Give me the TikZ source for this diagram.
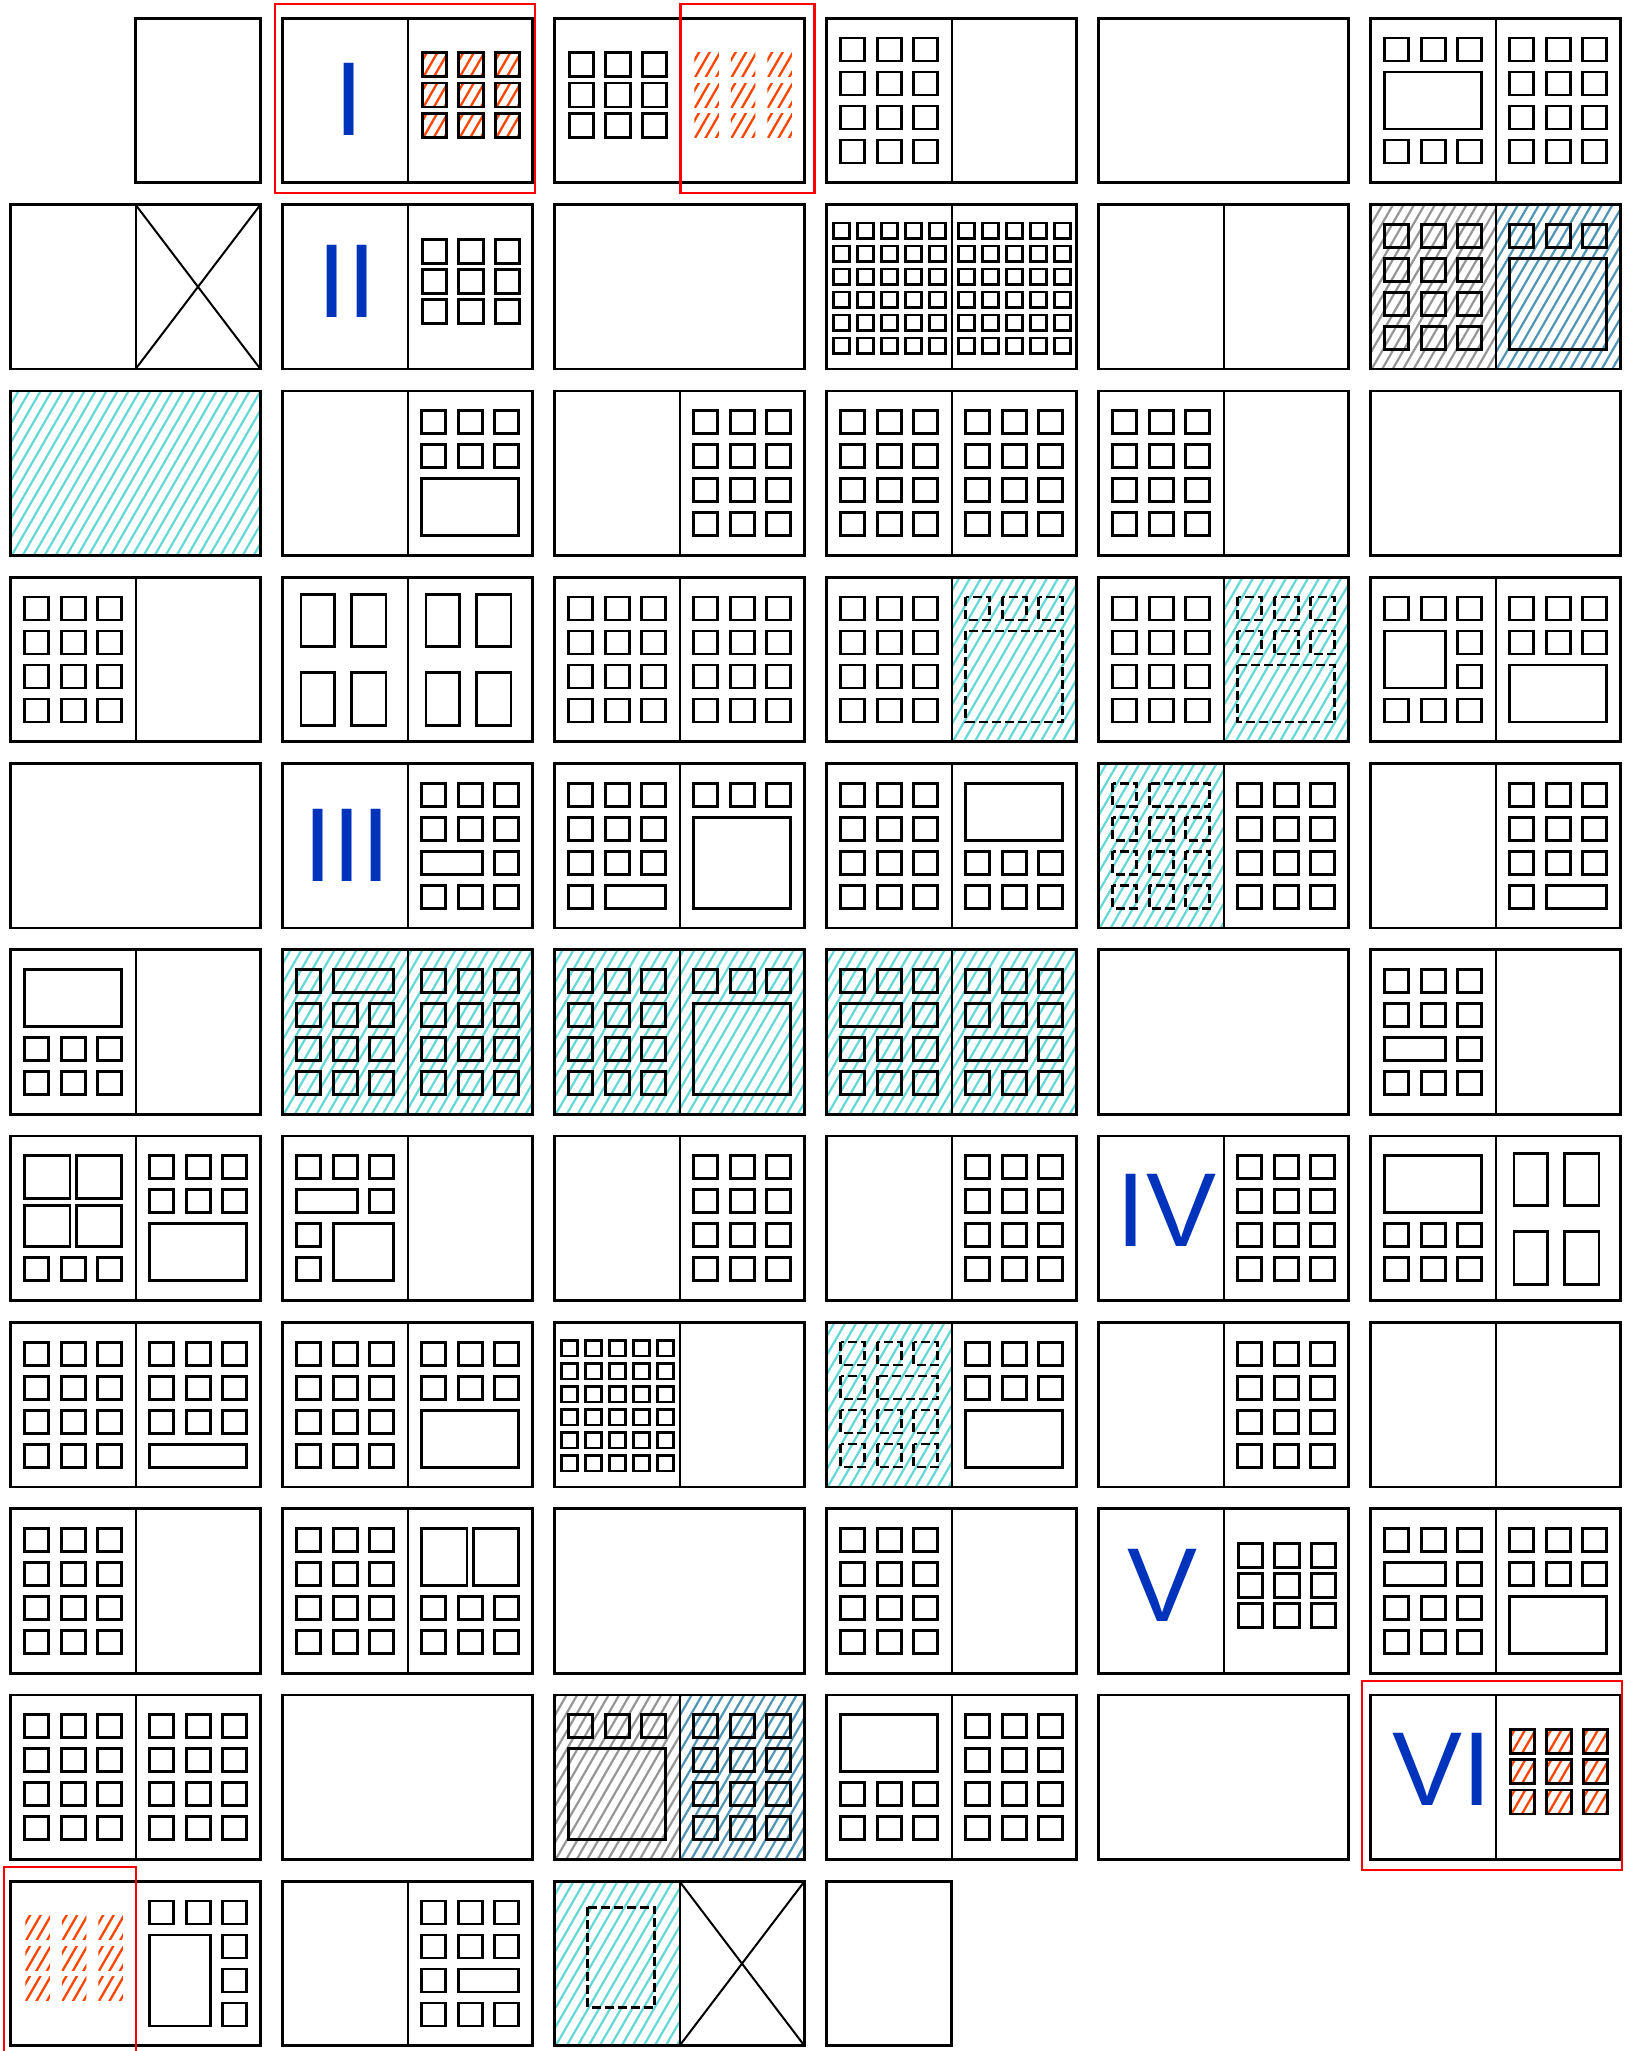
\documentclass[tikz,border=0pt]{standalone}
\usepackage{fontspec}
\setmainfont{Liberation Sans}
\definecolor{lblue}{RGB}{0,51,187}
\definecolor{cyanH}{RGB}{100,215,215}
\definecolor{grayH}{RGB}{150,150,150}
\definecolor{blueH}{RGB}{80,150,180}
\definecolor{orangeH}{RGB}{255,70,0}
\definecolor{redC}{RGB}{255,0,0}
\tikzset{
 frm/.style={line width=2.7pt, draw=black},
 divl/.style={line width=2pt},
 boxst/.style={line width=2.8pt},
 dbox/.style={line width=2.6pt, dash pattern=on 9pt off 4pt},
 xln/.style={line width=2pt},
 hl/.style={line width=2.2pt},
 redbox/.style={draw=redC, line width=2.2pt},
 lbl/.style={text=lblue, inner sep=0pt, font=\fontsize{105}{105}\selectfont, anchor=base},
}
\newcommand{\SP}[3]{\begin{scope}[shift={({10.5+272*(#1-1)},{18.3+186.3*(#2-1)})}]#3\end{scope}}
\newcommand{\frameD}{\draw[frm] (0,0) rectangle (250,164.5); \draw[divl] (125,0) -- (125,164.5);}
\newcommand{\frameS}{\draw[frm] (0,0) rectangle (250,164.5);}
\newcommand{\bx}[5]{\draw[boxst] ({#1+14.25+36.5*#2},{19.75+34*#3}) rectangle ({#1+38.25+36.5*#4},{42.75+34*#5});}
\newcommand{\dbx}[5]{\draw[dbox] ({#1+14.25+36.5*#2},{19.75+34*#3}) rectangle ({#1+38.25+36.5*#4},{42.75+34*#5});}
\newcommand{\rowb}[2]{\foreach \i in {0,1,2}{\bx{#1}{\i}{#2}{\i}{#2}}}
\newcommand{\drow}[2]{\foreach \i in {0,1,2}{\dbx{#1}{\i}{#2}{\i}{#2}}}
\newcommand{\grid}[1]{\foreach \j in {0,...,3}{\rowb{#1}{\j}}}
\newcommand{\bxc}[3]{\draw[boxst] ({#1+14.75+36.5*#2},{34.5+30.25*#3}) rectangle ++(24.5,24);}
\newcommand{\gridc}[1]{\foreach \j in {0,1,2}{\foreach \i in {0,1,2}{\bxc{#1}{\i}{\j}}}}
\newcommand{\dense}[1]{\foreach \i in {0,...,4}{\foreach \j in {0,...,5}{\draw[boxst] ({#1+6.75+24*\i},{18.4+23*\j}) rectangle ++(16,15.2);}}}
\newcommand{\tall}[1]{\draw[boxst] ({#1+18.5},17) rectangle ({#1+52},69.5) ({#1+69},17) rectangle ({#1+103.5},69.5) ({#1+18.5},95) rectangle ({#1+52},148.5) ({#1+69},95) rectangle ({#1+103.5},148.5);}
% hatch: x1 y1 x2 y2 colour spacing
\newcommand{\hatch}[6]{\begin{scope}\clip ({#1},{#2}) rectangle ({#3},{#4});\foreach \k in {-11,...,27}{\draw[#5,hl] ({#1+\k*#6},{#4+2}) -- ++(100,-173.2);}\end{scope}}
\newcommand{\hatchs}[5]{\begin{scope}\clip ({#1},{#2}) rectangle ({#3},{#4});\foreach \k in {-3,...,4}{\draw[#5,hl,line width=2.3pt] ({#1+\k*10.5},{#4+2}) -- ++(20,-34.64);}\end{scope}}
\newcommand{\ogrid}[1]{\foreach \j in {0,1,2}{\foreach \i in {0,1,2}{\hatchs{#1+14.75+36.5*\i}{34.5+30.25*\j}{#1+39.25+36.5*\i}{58.5+30.25*\j}{orangeH}}}}
\newcommand{\cyanpage}[2]{\hatch{#1}{0}{#2}{164.5}{cyanH}{11}}
\begin{document}
\begin{tikzpicture}[x=1pt,y=-1pt]
\useasboundingbox (0,0) rectangle (1630,2051);
% Row 1
\SP{1}{1}{\draw[frm] (125,0) rectangle (250,164.5);}
\SP{2}{1}{\frameD \node[lbl] (lI) at (66.7,116.7) {I}; \ogrid{125} \gridc{125}}
\SP{3}{1}{\frameD \gridc{0} \ogrid{125}}
\SP{4}{1}{\frameD \grid{0}}
\SP{5}{1}{\frameS}
\SP{6}{1}{\frameD \rowb{0}{0} \bx{0}{0}{1}{2}{2} \rowb{0}{3} \grid{125}}
% Row 2
\SP{1}{2}{\frameD \draw[xln] (125,0) -- (250,164.5) (125,164.5) -- (250,0);}
\SP{2}{2}{\frameD \node[lbl] (lII) at (64.6,113) {II}; \gridc{125}}
\SP{3}{2}{\frameS}
\SP{4}{2}{\frameD \dense{0} \dense{125}}
\SP{5}{2}{\frameD}
\SP{6}{2}{\hatch{0}{0}{125}{164.5}{grayH}{10.5} \hatch{125}{0}{250}{164.5}{blueH}{10.5} \frameD \grid{0} \rowb{125}{0} \bx{125}{0}{1}{2}{3}}
% Row 3
\SP{1}{3}{\cyanpage{0}{250} \frameS}
\SP{2}{3}{\frameD \rowb{125}{0} \rowb{125}{1} \bx{125}{0}{2}{2}{3}}
\SP{3}{3}{\frameD \grid{125}}
\SP{4}{3}{\frameD \grid{0} \grid{125}}
\SP{5}{3}{\frameD \grid{0}}
\SP{6}{3}{\frameS}
% Row 4
\SP{1}{4}{\frameD \grid{0}}
\SP{2}{4}{\frameD \tall{0} \tall{125}}
\SP{3}{4}{\frameD \grid{0} \grid{125}}
\SP{4}{4}{\cyanpage{125}{250} \frameD \grid{0} \drow{125}{0} \dbx{125}{0}{1}{2}{3}}
\SP{5}{4}{\cyanpage{125}{250} \frameD \grid{0} \drow{125}{0} \drow{125}{1} \dbx{125}{0}{2}{2}{3}}
\SP{6}{4}{\frameD \rowb{0}{0} \bx{0}{0}{1}{1}{2} \bx{0}{2}{1}{2}{1} \bx{0}{2}{2}{2}{2} \rowb{0}{3} \rowb{125}{0} \rowb{125}{1} \bx{125}{0}{2}{2}{3}}
% Row 5
\SP{1}{5}{\frameS}
\SP{2}{5}{\frameD \node[lbl] (lIII) at (64.6,117.7) {III}; \rowb{125}{0} \rowb{125}{1} \bx{125}{0}{2}{1}{2} \bx{125}{2}{2}{2}{2} \rowb{125}{3}}
\SP{3}{5}{\frameD \rowb{0}{0} \rowb{0}{1} \rowb{0}{2} \bx{0}{0}{3}{0}{3} \bx{0}{1}{3}{2}{3} \rowb{125}{0} \bx{125}{0}{1}{2}{3}}
\SP{4}{5}{\frameD \grid{0} \bx{125}{0}{0}{2}{1} \rowb{125}{2} \rowb{125}{3}}
\SP{5}{5}{\cyanpage{0}{125} \frameD \dbx{0}{0}{0}{0}{0} \dbx{0}{1}{0}{2}{0} \drow{0}{1} \drow{0}{2} \drow{0}{3} \grid{125}}
\SP{6}{5}{\frameD \rowb{125}{0} \rowb{125}{1} \rowb{125}{2} \bx{125}{0}{3}{0}{3} \bx{125}{1}{3}{2}{3}}
% Row 6
\SP{1}{6}{\frameD \bx{0}{0}{0}{2}{1} \rowb{0}{2} \rowb{0}{3}}
\SP{2}{6}{\cyanpage{0}{250} \frameD \bx{0}{0}{0}{0}{0} \bx{0}{1}{0}{2}{0} \rowb{0}{1} \rowb{0}{2} \rowb{0}{3} \grid{125}}
\SP{3}{6}{\cyanpage{0}{250} \frameD \grid{0} \rowb{125}{0} \bx{125}{0}{1}{2}{3}}
\SP{4}{6}{\cyanpage{0}{250} \frameD \rowb{0}{0} \bx{0}{0}{1}{1}{1} \bx{0}{2}{1}{2}{1} \rowb{0}{2} \rowb{0}{3} \rowb{125}{0} \rowb{125}{1} \bx{125}{0}{2}{1}{2} \bx{125}{2}{2}{2}{2} \rowb{125}{3}}
\SP{5}{6}{\frameS}
\SP{6}{6}{\frameD \rowb{0}{0} \rowb{0}{1} \bx{0}{0}{2}{1}{2} \bx{0}{2}{2}{2}{2} \rowb{0}{3}}
% Row 7
\SP{1}{7}{\frameD \draw[boxst] (14.25,19.75) rectangle (59.5,62) (66,19.75) rectangle (111.25,62) (14.25,69) rectangle (59.5,110.75) (66,69) rectangle (111.25,110.75); \rowb{0}{3} \rowb{125}{0} \rowb{125}{1} \bx{125}{0}{2}{2}{3}}
\SP{2}{7}{\frameD \rowb{0}{0} \bx{0}{0}{1}{1}{1} \bx{0}{2}{1}{2}{1} \bx{0}{0}{2}{0}{2} \bx{0}{0}{3}{0}{3} \bx{0}{1}{2}{2}{3}}
\SP{3}{7}{\frameD \grid{125}}
\SP{4}{7}{\frameD \grid{125}}
\SP{5}{7}{\frameD \node[lbl] (lIV) at (68,109.9) {IV}; \grid{125}}
\SP{6}{7}{\frameD \bx{0}{0}{0}{2}{1} \rowb{0}{2} \rowb{0}{3} \tall{125}}
% Row 8
\SP{1}{8}{\frameD \grid{0} \rowb{125}{0} \rowb{125}{1} \rowb{125}{2} \bx{125}{0}{3}{2}{3}}
\SP{2}{8}{\frameD \grid{0} \rowb{125}{0} \rowb{125}{1} \bx{125}{0}{2}{2}{3}}
\SP{3}{8}{\frameD \dense{0}}
\SP{4}{8}{\cyanpage{0}{125} \frameD \drow{0}{0} \dbx{0}{0}{1}{0}{1} \dbx{0}{1}{1}{2}{1} \drow{0}{2} \drow{0}{3} \rowb{125}{0} \rowb{125}{1} \bx{125}{0}{2}{2}{3}}
\SP{5}{8}{\frameD \grid{125}}
\SP{6}{8}{\frameD}
% Row 9
\SP{1}{9}{\frameD \grid{0}}
\SP{2}{9}{\frameD \grid{0} \draw[boxst] (139.25,19.75) rectangle (184.5,76.75) (191,19.75) rectangle (236.25,76.75); \rowb{125}{2} \rowb{125}{3}}
\SP{3}{9}{\frameS}
\SP{4}{9}{\frameD \grid{0}}
\SP{5}{9}{\frameD \node[lbl] (lV) at (64.1,112.3) {V}; \gridc{125}}
\SP{6}{9}{\frameD \rowb{0}{0} \bx{0}{0}{1}{1}{1} \bx{0}{2}{1}{2}{1} \rowb{0}{2} \rowb{0}{3} \rowb{125}{0} \rowb{125}{1} \bx{125}{0}{2}{2}{3}}
% Row 10
\SP{1}{10}{\frameD \grid{0} \grid{125}}
\SP{2}{10}{\frameS}
\SP{3}{10}{\hatch{0}{0}{125}{164.5}{grayH}{10.5} \hatch{125}{0}{250}{164.5}{blueH}{10.5} \frameD \rowb{0}{0} \bx{0}{0}{1}{2}{3} \grid{125}}
\SP{4}{10}{\frameD \bx{0}{0}{0}{2}{1} \rowb{0}{2} \rowb{0}{3} \grid{125}}
\SP{5}{10}{\frameS}
\SP{6}{10}{\frameD \node[lbl] (lVI) at (71.8,110.6) {VI}; \ogrid{125} \gridc{125}}
% Row 11
\SP{1}{11}{\frameD \ogrid{0} \rowb{125}{0} \bx{125}{0}{1}{1}{3} \bx{125}{2}{1}{2}{1} \bx{125}{2}{2}{2}{2} \bx{125}{2}{3}{2}{3}}
\SP{2}{11}{\frameD \rowb{125}{0} \rowb{125}{1} \bx{125}{0}{2}{0}{2} \bx{125}{1}{2}{2}{2} \rowb{125}{3}}
\SP{3}{11}{\cyanpage{0}{125} \frameD \draw[dbox] (33,26) rectangle (100,126); \draw[xln] (125,0) -- (250,164.5) (125,164.5) -- (250,0);}
\SP{4}{11}{\draw[frm] (0,0) rectangle (125,164.5);}
% Red highlight boxes
\SP{2}{1}{\draw[redbox] (-7.5,-14.3) rectangle (252.5,174.4);}
\SP{3}{1}{\draw[redbox] (126,-14.3) rectangle (260,174.4);}
\SP{6}{10}{\draw[redbox] (-8.7,-14.4) rectangle (251.5,174.6);}
\SP{1}{11}{\draw[redbox] (-6.3,-14.6) rectangle (125.5,174.5);}
\end{tikzpicture}
\end{document}
